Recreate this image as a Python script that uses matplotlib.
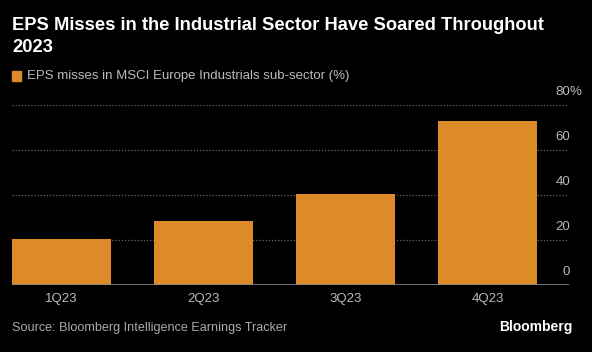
import matplotlib.pyplot as plt
from matplotlib import transforms

quarters = ['1Q23', '2Q23', '3Q23', '4Q23']
misses = [20.5, 28.6, 40.6, 73.1]
yticks = [0, 20, 40, 60, 80]

bar_color = '#dd8a28'
plt.rcParams['font.family'] = ['Liberation Sans', 'DejaVu Sans']

fig = plt.figure(figsize=(5.92, 3.52), dpi=100, facecolor='black')
ax = fig.add_axes([12 / 592, 1 - 285 / 352, 557 / 592, 180 / 352])
ax.set_facecolor('black')

x = range(len(quarters))
ax.bar(x, misses, width=0.7, color=bar_color, zorder=3)
ax.set_xlim(-0.35, 3.574)
ax.set_ylim(0, 80)

for v in yticks[1:]:
    ax.axhline(v, color='#666666', lw=0.9, ls=(0, (1, 1.5)), zorder=1)
ax.axhline(0, color='#8a8a8a', lw=1.2, zorder=4)

for s in ax.spines.values():
    s.set_visible(False)
ax.set_yticks([])
ax.set_xticks(list(x))
ax.set_xticklabels(quarters, color='#bbbbbb', fontsize=9.5)
ax.tick_params(axis='x', length=0, pad=6)

# y labels sit above their gridlines, at the right edge
trans = transforms.blended_transform_factory(fig.transFigure, ax.transData)
off = transforms.offset_copy(trans, fig=fig, x=0, y=13, units='dots')
for v in yticks:
    ax.text(570 / 592, v, str(v), transform=off, ha='right', va='center',
            color='#bbbbbb', fontsize=9.5)
ax.text(570 / 592, 80, '%', transform=off, ha='left', va='center',
        color='#bbbbbb', fontsize=9.5)

fig.text(12 / 592, 1 - 26 / 352, 'EPS Misses in the Industrial Sector Have Soared Throughout',
         color='white', fontsize=13.2, fontweight='bold', va='center')
fig.text(12 / 592, 1 - 48 / 352, '2023',
         color='white', fontsize=13.2, fontweight='bold', va='center')

fig.patches.append(plt.Rectangle((12 / 592, 1 - 81 / 352), 9 / 592, 10 / 352,
                                 transform=fig.transFigure, color=bar_color))
fig.text(27 / 592, 1 - 76 / 352, 'EPS misses in MSCI Europe Industrials sub-sector (%)',
         color='#bbbbbb', fontsize=9.5, va='center')

fig.text(12 / 592, 1 - 328 / 352, 'Source: Bloomberg Intelligence Earnings Tracker',
         color='#aaaaaa', fontsize=9.1, va='center')
fig.text(573 / 592, 1 - 327 / 352, 'Bloomberg',
         color='white', fontsize=10, fontweight='bold', va='center', ha='right')

fig.savefig('out.png', dpi=100, facecolor='black')
